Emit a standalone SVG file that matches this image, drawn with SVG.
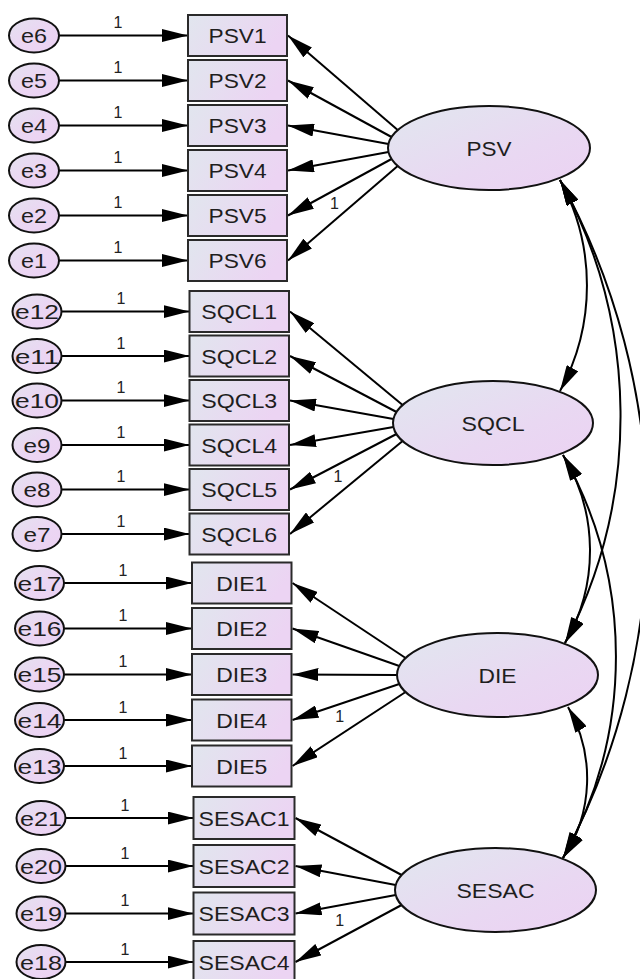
<svg xmlns="http://www.w3.org/2000/svg" width="640" height="979" viewBox="0 0 640 979">
<defs>
<linearGradient id="gb" x1="0" y1="0" x2="1" y2="0.3"><stop offset="0" stop-color="#e1e6ee"/><stop offset="1" stop-color="#ecd4f3"/></linearGradient>
<linearGradient id="ge" x1="0" y1="0" x2="1" y2="1"><stop offset="0" stop-color="#e1e7ef"/><stop offset="0.6" stop-color="#e9d8f2"/><stop offset="1" stop-color="#ecd2f3"/></linearGradient>
<linearGradient id="gs" x1="0" y1="0" x2="1" y2="1"><stop offset="0" stop-color="#e4e2ef"/><stop offset="0.5" stop-color="#ebd6f3"/><stop offset="1" stop-color="#ecd2f3"/></linearGradient>
<marker id="ah" viewBox="0 0 26 13" refX="26" refY="6.5" markerWidth="26" markerHeight="13" markerUnits="userSpaceOnUse" orient="auto-start-reverse"><path d="M0,0 L26,6.5 L0,13 z" fill="#000"/></marker>
</defs>
<style>
.box{fill:url(#gb);stroke:#2a2a2a;stroke-width:2}
.lat{fill:url(#ge);stroke:#111;stroke-width:2}
.err{fill:url(#gs);stroke:#111;stroke-width:2}
.t{font-family:"Liberation Sans",Arial,sans-serif;font-size:21px;fill:#1e1e1e;text-anchor:middle}
.one{font-family:"Liberation Sans",Arial,sans-serif;font-size:16px;fill:#222;text-anchor:middle}
.ar{stroke:#000;stroke-width:2;fill:none;marker-end:url(#ah)}
.cov{stroke:#000;stroke-width:2;fill:none;marker-start:url(#ah);marker-end:url(#ah)}
</style>
<rect width="640" height="979" fill="#fff"/>

<g id="connectors">
<line class="ar" x1="59" y1="35.5" x2="188" y2="35.5"/>
<line class="ar" x1="59" y1="80.5" x2="188" y2="80.5"/>
<line class="ar" x1="59" y1="125.5" x2="188" y2="125.5"/>
<line class="ar" x1="59" y1="170.5" x2="188" y2="170.5"/>
<line class="ar" x1="59" y1="215.5" x2="188" y2="215.5"/>
<line class="ar" x1="59" y1="260.5" x2="188" y2="260.5"/>
<line class="ar" x1="61.5" y1="311.5" x2="189.5" y2="311.5"/>
<line class="ar" x1="61.5" y1="356" x2="189.5" y2="356"/>
<line class="ar" x1="61.5" y1="400.5" x2="189.5" y2="400.5"/>
<line class="ar" x1="61.5" y1="445" x2="189.5" y2="445"/>
<line class="ar" x1="61.5" y1="489.5" x2="189.5" y2="489.5"/>
<line class="ar" x1="61.5" y1="534" x2="189.5" y2="534"/>
<line class="ar" x1="64" y1="583" x2="192" y2="583"/>
<line class="ar" x1="64" y1="628.5" x2="192" y2="628.5"/>
<line class="ar" x1="64" y1="674.5" x2="192" y2="674.5"/>
<line class="ar" x1="64" y1="720" x2="192" y2="720"/>
<line class="ar" x1="64" y1="766" x2="192" y2="766"/>
<line class="ar" x1="65.5" y1="818" x2="193.5" y2="818"/>
<line class="ar" x1="65.5" y1="866" x2="193.5" y2="866"/>
<line class="ar" x1="65.5" y1="913.5" x2="193.5" y2="913.5"/>
<line class="ar" x1="65.5" y1="962" x2="193.5" y2="962"/>
<line class="ar" x1="397.7" y1="130" x2="288" y2="35.5"/>
<line class="ar" x1="391.5" y1="137" x2="288" y2="80.5"/>
<line class="ar" x1="388.5" y1="144" x2="288" y2="125.5"/>
<line class="ar" x1="388.5" y1="152" x2="288" y2="170.5"/>
<line class="ar" x1="391.5" y1="159" x2="288" y2="215.5"/>
<line class="ar" x1="397.7" y1="166" x2="288" y2="260.5"/>
<line class="ar" x1="402.6" y1="405" x2="290" y2="311.5"/>
<line class="ar" x1="396.5" y1="412" x2="290" y2="356"/>
<line class="ar" x1="393.5" y1="419" x2="290" y2="400.5"/>
<line class="ar" x1="393.5" y1="427" x2="290" y2="445"/>
<line class="ar" x1="396.5" y1="434" x2="290" y2="489.5"/>
<line class="ar" x1="402.6" y1="441" x2="290" y2="534"/>
<line class="ar" x1="405.6" y1="658" x2="292.5" y2="583"/>
<line class="ar" x1="399.3" y1="666" x2="292.5" y2="628.5"/>
<line class="ar" x1="397" y1="675" x2="292.5" y2="674.5"/>
<line class="ar" x1="399.3" y1="684" x2="292.5" y2="720"/>
<line class="ar" x1="405.6" y1="692" x2="292.5" y2="766"/>
<line class="ar" x1="401.6" y1="875" x2="295.5" y2="818"/>
<line class="ar" x1="395.7" y1="885" x2="295.5" y2="866"/>
<line class="ar" x1="395.7" y1="895" x2="295.5" y2="913.5"/>
<line class="ar" x1="401.6" y1="905" x2="295.5" y2="962"/>
<path class="cov" d="M560,180 A220,220 0 0 1 560,391"/>
<path class="cov" d="M560,180 A491,491 0 0 1 565,643"/>
<path class="cov" d="M560,180 A711,711 0 0 1 563,858"/>
<path class="cov" d="M563,455 A183,183 0 0 1 565,643"/>
<path class="cov" d="M563,455 A410,410 0 0 1 563,858"/>
<path class="cov" d="M568,707 A143,143 0 0 1 563,858"/>
<text class="one" x="118" y="28">1</text>
<text class="one" x="118" y="73">1</text>
<text class="one" x="118" y="118">1</text>
<text class="one" x="118" y="163">1</text>
<text class="one" x="118" y="208">1</text>
<text class="one" x="118" y="253">1</text>
<text class="one" x="121" y="304">1</text>
<text class="one" x="121" y="348.5">1</text>
<text class="one" x="121" y="393">1</text>
<text class="one" x="121" y="437.5">1</text>
<text class="one" x="121" y="482">1</text>
<text class="one" x="121" y="526.5">1</text>
<text class="one" x="123" y="575.5">1</text>
<text class="one" x="123" y="621">1</text>
<text class="one" x="123" y="667">1</text>
<text class="one" x="123" y="712.5">1</text>
<text class="one" x="123" y="758.5">1</text>
<text class="one" x="125" y="810.5">1</text>
<text class="one" x="125" y="858.5">1</text>
<text class="one" x="125" y="906">1</text>
<text class="one" x="125" y="954.5">1</text>
<text class="one" x="334.5" y="208.5">1</text>
<text class="one" x="338" y="481.5">1</text>
<text class="one" x="339.7" y="721.5">1</text>
<text class="one" x="339.7" y="926">1</text>
</g>

<g id="PSV"><ellipse class="lat" cx="489" cy="148" rx="101" ry="42"/><text class="t" x="489" y="155.5" textLength="45" lengthAdjust="spacingAndGlyphs">PSV</text></g>
<g id="SQCL"><ellipse class="lat" cx="493" cy="423" rx="100" ry="42"/><text class="t" x="493" y="430.5" textLength="63" lengthAdjust="spacingAndGlyphs">SQCL</text></g>
<g id="DIE"><ellipse class="lat" cx="497.5" cy="675" rx="100.5" ry="42"/><text class="t" x="497.5" y="682.5" textLength="38" lengthAdjust="spacingAndGlyphs">DIE</text></g>
<g id="SESAC"><ellipse class="lat" cx="495.5" cy="890" rx="100.5" ry="42"/><text class="t" x="495.5" y="897.5" textLength="78" lengthAdjust="spacingAndGlyphs">SESAC</text></g>

<g id="PSV1"><rect class="box" x="188" y="15" width="99" height="41"/><text class="t" x="237.5" y="43" textLength="58" lengthAdjust="spacingAndGlyphs">PSV1</text></g>
<g id="PSV2"><rect class="box" x="188" y="60" width="99" height="41"/><text class="t" x="237.5" y="88" textLength="58" lengthAdjust="spacingAndGlyphs">PSV2</text></g>
<g id="PSV3"><rect class="box" x="188" y="105" width="99" height="41"/><text class="t" x="237.5" y="133" textLength="58" lengthAdjust="spacingAndGlyphs">PSV3</text></g>
<g id="PSV4"><rect class="box" x="188" y="150" width="99" height="41"/><text class="t" x="237.5" y="178" textLength="58" lengthAdjust="spacingAndGlyphs">PSV4</text></g>
<g id="PSV5"><rect class="box" x="188" y="195" width="99" height="41"/><text class="t" x="237.5" y="223" textLength="58" lengthAdjust="spacingAndGlyphs">PSV5</text></g>
<g id="PSV6"><rect class="box" x="188" y="240" width="99" height="41"/><text class="t" x="237.5" y="268" textLength="58" lengthAdjust="spacingAndGlyphs">PSV6</text></g>

<g id="SQCL1"><rect class="box" x="189.5" y="291" width="99.5" height="41"/><text class="t" x="239.2" y="319" textLength="76" lengthAdjust="spacingAndGlyphs">SQCL1</text></g>
<g id="SQCL2"><rect class="box" x="189.5" y="335.5" width="99.5" height="41"/><text class="t" x="239.2" y="363.5" textLength="76" lengthAdjust="spacingAndGlyphs">SQCL2</text></g>
<g id="SQCL3"><rect class="box" x="189.5" y="380" width="99.5" height="41"/><text class="t" x="239.2" y="408" textLength="76" lengthAdjust="spacingAndGlyphs">SQCL3</text></g>
<g id="SQCL4"><rect class="box" x="189.5" y="424.5" width="99.5" height="41"/><text class="t" x="239.2" y="452.5" textLength="76" lengthAdjust="spacingAndGlyphs">SQCL4</text></g>
<g id="SQCL5"><rect class="box" x="189.5" y="469" width="99.5" height="41"/><text class="t" x="239.2" y="497" textLength="76" lengthAdjust="spacingAndGlyphs">SQCL5</text></g>
<g id="SQCL6"><rect class="box" x="189.5" y="513.5" width="99.5" height="41"/><text class="t" x="239.2" y="541.5" textLength="76" lengthAdjust="spacingAndGlyphs">SQCL6</text></g>

<g id="DIE1"><rect class="box" x="192" y="562.5" width="99.5" height="41"/><text class="t" x="241.7" y="590.5" textLength="51" lengthAdjust="spacingAndGlyphs">DIE1</text></g>
<g id="DIE2"><rect class="box" x="192" y="608" width="99.5" height="41"/><text class="t" x="241.7" y="636" textLength="51" lengthAdjust="spacingAndGlyphs">DIE2</text></g>
<g id="DIE3"><rect class="box" x="192" y="654" width="99.5" height="41"/><text class="t" x="241.7" y="682" textLength="51" lengthAdjust="spacingAndGlyphs">DIE3</text></g>
<g id="DIE4"><rect class="box" x="192" y="699.5" width="99.5" height="41"/><text class="t" x="241.7" y="727.5" textLength="51" lengthAdjust="spacingAndGlyphs">DIE4</text></g>
<g id="DIE5"><rect class="box" x="192" y="745.5" width="99.5" height="41"/><text class="t" x="241.7" y="773.5" textLength="51" lengthAdjust="spacingAndGlyphs">DIE5</text></g>

<g id="SESAC1"><rect class="box" x="193.5" y="797" width="101" height="42"/><text class="t" x="244" y="825.5" textLength="91" lengthAdjust="spacingAndGlyphs">SESAC1</text></g>
<g id="SESAC2"><rect class="box" x="193.5" y="845" width="101" height="42"/><text class="t" x="244" y="873.5" textLength="91" lengthAdjust="spacingAndGlyphs">SESAC2</text></g>
<g id="SESAC3"><rect class="box" x="193.5" y="892.5" width="101" height="42"/><text class="t" x="244" y="921" textLength="91" lengthAdjust="spacingAndGlyphs">SESAC3</text></g>
<g id="SESAC4"><rect class="box" x="193.5" y="941" width="101" height="42"/><text class="t" x="244" y="969.5" textLength="91" lengthAdjust="spacingAndGlyphs">SESAC4</text></g>

<g id="e6"><ellipse class="err" cx="34" cy="35.5" rx="25" ry="17"/><text class="t" x="34" y="43" textLength="26" lengthAdjust="spacingAndGlyphs">e6</text></g>
<g id="e5"><ellipse class="err" cx="34" cy="80.5" rx="25" ry="17"/><text class="t" x="34" y="88" textLength="26" lengthAdjust="spacingAndGlyphs">e5</text></g>
<g id="e4"><ellipse class="err" cx="34" cy="125.5" rx="25" ry="17"/><text class="t" x="34" y="133" textLength="26" lengthAdjust="spacingAndGlyphs">e4</text></g>
<g id="e3"><ellipse class="err" cx="34" cy="170.5" rx="25" ry="17"/><text class="t" x="34" y="178" textLength="26" lengthAdjust="spacingAndGlyphs">e3</text></g>
<g id="e2"><ellipse class="err" cx="34" cy="215.5" rx="25" ry="17"/><text class="t" x="34" y="223" textLength="26" lengthAdjust="spacingAndGlyphs">e2</text></g>
<g id="e1"><ellipse class="err" cx="34" cy="260.5" rx="25" ry="17"/><text class="t" x="34" y="268" textLength="26" lengthAdjust="spacingAndGlyphs">e1</text></g>
<g id="e12"><ellipse class="err" cx="37" cy="311.5" rx="24.5" ry="17"/><text class="t" x="37" y="319" textLength="44" lengthAdjust="spacingAndGlyphs">e12</text></g>
<g id="e11"><ellipse class="err" cx="37" cy="356" rx="24.5" ry="17"/><text class="t" x="37" y="363.5" textLength="44" lengthAdjust="spacingAndGlyphs">e11</text></g>
<g id="e10"><ellipse class="err" cx="37" cy="400.5" rx="24.5" ry="17"/><text class="t" x="37" y="408" textLength="44" lengthAdjust="spacingAndGlyphs">e10</text></g>
<g id="e9"><ellipse class="err" cx="37" cy="445" rx="24.5" ry="17"/><text class="t" x="37" y="452.5" textLength="27" lengthAdjust="spacingAndGlyphs">e9</text></g>
<g id="e8"><ellipse class="err" cx="37" cy="489.5" rx="24.5" ry="17"/><text class="t" x="37" y="497" textLength="27" lengthAdjust="spacingAndGlyphs">e8</text></g>
<g id="e7"><ellipse class="err" cx="37" cy="534" rx="24.5" ry="17"/><text class="t" x="37" y="541.5" textLength="27" lengthAdjust="spacingAndGlyphs">e7</text></g>
<g id="e17"><ellipse class="err" cx="39.5" cy="583" rx="24.5" ry="17"/><text class="t" x="39.5" y="590.5" textLength="44" lengthAdjust="spacingAndGlyphs">e17</text></g>
<g id="e16"><ellipse class="err" cx="39.5" cy="628.5" rx="24.5" ry="17"/><text class="t" x="39.5" y="636" textLength="44" lengthAdjust="spacingAndGlyphs">e16</text></g>
<g id="e15"><ellipse class="err" cx="39.5" cy="674.5" rx="24.5" ry="17"/><text class="t" x="39.5" y="682" textLength="44" lengthAdjust="spacingAndGlyphs">e15</text></g>
<g id="e14"><ellipse class="err" cx="39.5" cy="720" rx="24.5" ry="17"/><text class="t" x="39.5" y="727.5" textLength="44" lengthAdjust="spacingAndGlyphs">e14</text></g>
<g id="e13"><ellipse class="err" cx="39.5" cy="766" rx="24.5" ry="17"/><text class="t" x="39.5" y="773.5" textLength="44" lengthAdjust="spacingAndGlyphs">e13</text></g>
<g id="e21"><ellipse class="err" cx="41" cy="818" rx="24.5" ry="17"/><text class="t" x="41" y="825.5" textLength="42" lengthAdjust="spacingAndGlyphs">e21</text></g>
<g id="e20"><ellipse class="err" cx="41" cy="866" rx="24.5" ry="17"/><text class="t" x="41" y="873.5" textLength="42" lengthAdjust="spacingAndGlyphs">e20</text></g>
<g id="e19"><ellipse class="err" cx="41" cy="913.5" rx="24.5" ry="17"/><text class="t" x="41" y="921" textLength="42" lengthAdjust="spacingAndGlyphs">e19</text></g>
<g id="e18"><ellipse class="err" cx="41" cy="962" rx="24.5" ry="17"/><text class="t" x="41" y="969.5" textLength="42" lengthAdjust="spacingAndGlyphs">e18</text></g>
</svg>
